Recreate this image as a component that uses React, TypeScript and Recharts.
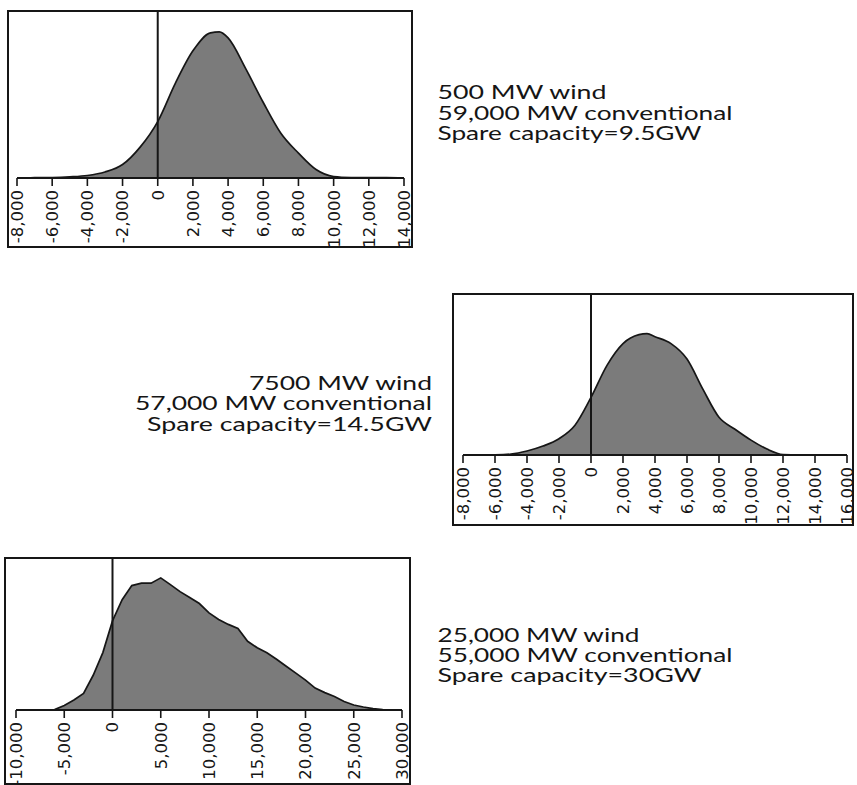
import React from 'react';
import { AreaChart, Area, XAxis, YAxis, ReferenceLine } from 'recharts';

// Spare capacity distributions: x = margin in MW, y = relative frequency (0–100 of panel height)

// 500 MW wind / 59,000 MW conventional
const lowWindMw = [-8000, -7000, -6000, -5000, -4000, -3000, -2000, -1000, 0, 1000, 2000, 3000, 3500, 4000, 5000, 6000, 7000, 8000, 9000, 10000, 11000, 12000, 13000, 14000];
const lowWindFreq = [0, 0.2, 0.3, 0.7, 1.5, 3.6, 8.1, 18.6, 34, 57, 76.6, 87.4, 88, 84.4, 65.9, 45.5, 27, 15, 5.1, 0.9, 0.3, 0.2, 0.2, 0];
const lowWindTicks = [-8000, -6000, -4000, -2000, 0, 2000, 4000, 6000, 8000, 10000, 12000, 14000];

// 7500 MW wind / 57,000 MW conventional
const midWindMw = [-8000, -7000, -6000, -5000, -4000, -3000, -2000, -1000, 0, 1000, 2000, 3000, 3500, 4000, 5000, 6000, 7000, 8000, 9000, 10000, 11000, 12000, 13000, 14000, 15000, 16000];
const midWindFreq = [0, 0, 0.1, 0.6, 2.5, 5.6, 10.2, 18.6, 36, 56, 69.6, 75.2, 75.8, 73.9, 69.6, 60, 41, 23.6, 16.1, 9.3, 3.7, 0.3, 0, 0, 0, 0];
const midWindTicks = [-8000, -6000, -4000, -2000, 0, 2000, 4000, 6000, 8000, 10000, 12000, 14000, 16000];

// 25,000 MW wind / 55,000 MW conventional
const highWindMw = [-10000, -9000, -8000, -7000, -6000, -5000, -4000, -3000, -2000, -1000, 0, 1000, 2000, 3000, 4000, 5000, 6000, 7000, 8000, 9000, 10000, 11000, 12000, 13000, 14000, 15000, 16000, 17000, 18000, 19000, 20000, 21000, 22000, 23000, 24000, 25000, 26000, 27000, 28000, 29000, 30000];
const highWindFreq = [0, 0, 0, 0, 0.3, 3, 6.6, 11, 23, 38, 59, 73, 82.4, 84, 84, 87.5, 83, 78.4, 74.5, 70.5, 64.3, 60, 56.7, 54, 45.5, 41.2, 37.9, 33.6, 29, 24.4, 19.8, 14.5, 11.5, 8.9, 5.6, 3.3, 2, 0.9, 0.3, 0, 0];
const highWindTicks = [-10000, -5000, 0, 5000, 10000, 15000, 20000, 25000, 30000];

const lowWindCaption = ['500 MW wind', '59,000 MW conventional', 'Spare capacity=9.5GW'];
const midWindCaption = ['7500 MW wind', '57,000 MW conventional', 'Spare capacity=14.5GW'];
const highWindCaption = ['25,000 MW wind', '55,000 MW conventional', 'Spare capacity=30GW'];

const toRows = (mw: number[], freq: number[]) => mw.map((m, i) => ({ mw: m, freq: freq[i] }));

const withCommas = (v: number) => String(v).replace(/\B(?=(\d{3})+(?!\d))/g, ',');

const INK = '#161616';

const RotatedTick = (props: any) => {
  const { x, y, payload } = props;
  return (
    <text
      x={x}
      y={y}
      dy="0.36em"
      transform={`rotate(-90 ${x} ${y})`}
      textAnchor="end"
      fontFamily="'DejaVu Sans', sans-serif"
      fontSize={16.5}
      fill={INK}
    >
      {withCommas(payload.value)}
    </text>
  );
};

interface PanelProps {
  left: number;
  top: number;
  width: number;
  height: number;
  rows: { mw: number; freq: number }[];
  domain: [number, number];
  ticks: number[];
  padLeft: number;
  padRight: number;
  axisHeight: number;
  curve: 'monotone' | 'linear';
}

const Panel: React.FC<PanelProps> = ({ left, top, width, height, rows, domain, ticks, padLeft, padRight, axisHeight, curve }) => (
  <div
    style={{
      position: 'absolute',
      left,
      top,
      width,
      height,
      boxSizing: 'border-box',
      border: `2px solid ${INK}`,
      overflow: 'hidden',
      background: '#fff',
    }}
  >
    <AreaChart width={width - 4} height={height - 4} data={rows} margin={{ top: 0, right: padRight, bottom: 0, left: padLeft }}>
      <YAxis hide domain={[0, 100]} />
      <Area
        type={curve}
        dataKey="freq"
        stroke={INK}
        strokeWidth={1.7}
        fill="#7b7b7b"
        fillOpacity={1}
        baseValue={0}
        dot={false}
        activeDot={false}
        isAnimationActive={false}
      />
      <ReferenceLine x={0} stroke={INK} strokeWidth={2} />
      <XAxis
        type="number"
        dataKey="mw"
        domain={domain}
        ticks={ticks}
        interval={0}
        allowDataOverflow
        height={axisHeight}
        tickSize={8}
        tickMargin={4}
        axisLine={{ stroke: INK, strokeWidth: 2 }}
        tickLine={{ stroke: INK, strokeWidth: 1.6 }}
        tick={<RotatedTick />}
      />
    </AreaChart>
  </div>
);

const Caption = ({ lines, x, y, widths, anchor }: { lines: string[]; x: number; y: number[]; widths: number[]; anchor: 'start' | 'end' }) => (
  <g fontFamily="Lato, 'Open Sans', sans-serif" fontSize={18.5} fill="#151515">
    {lines.map((line, i) => (
      <text key={line} x={x} y={y[i]} textAnchor={anchor} textLength={widths[i]} lengthAdjust="spacingAndGlyphs">
        {line}
      </text>
    ))}
  </g>
);

export default function App() {
  return (
    <div style={{ position: 'absolute', left: 0, top: 0, width: 857, height: 785, background: '#fff', overflow: 'hidden' }}>
      <svg width={857} height={785} style={{ position: 'absolute', left: 0, top: 0 }}>
        <Caption lines={lowWindCaption} x={437.5} y={[98.5, 119.5, 140]} widths={[169, 295, 264]} anchor="start" />
        <Caption lines={midWindCaption} x={432} y={[389.5, 410, 430.5]} widths={[183, 297, 285]} anchor="end" />
        <Caption lines={highWindCaption} x={437.5} y={[641.7, 661.7, 681.7]} widths={[202, 295, 264]} anchor="start" />
      </svg>

      <Panel
        left={7}
        top={10}
        width={406}
        height={238}
        rows={toRows(lowWindMw, lowWindFreq)}
        domain={[-8000, 14000]}
        ticks={lowWindTicks}
        padLeft={8}
        padRight={7}
        axisHeight={68}
        curve="monotone"
      />
      <Panel
        left={452}
        top={293}
        width={402}
        height={233}
        rows={toRows(midWindMw, midWindFreq)}
        domain={[-8000, 16000]}
        ticks={midWindTicks}
        padLeft={9}
        padRight={5}
        axisHeight={69}
        curve="monotone"
      />
      <Panel
        left={4}
        top={557}
        width={407}
        height={228}
        rows={toRows(highWindMw, highWindFreq)}
        domain={[-10000, 30000]}
        ticks={highWindTicks}
        padLeft={10}
        padRight={7}
        axisHeight={73}
        curve="linear"
      />
    </div>
  );
}
